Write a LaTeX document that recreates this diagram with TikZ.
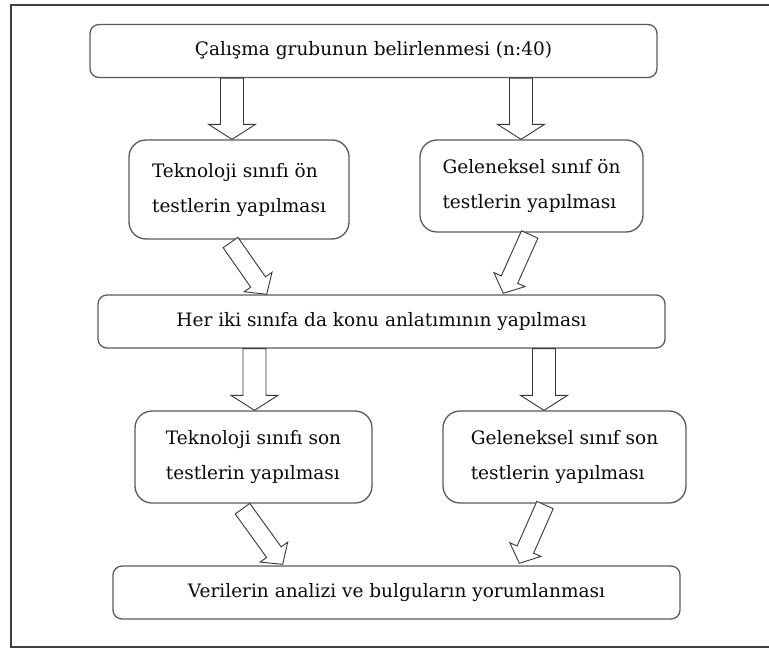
\documentclass[tikz,border=0pt]{standalone}
\usepackage{fontspec}
\setmainfont{DejaVu Serif}
\usetikzlibrary{calc}
\definecolor{boxgray}{RGB}{90,90,90}
\definecolor{framegray}{RGB}{64,64,64}
\definecolor{arrowgray}{RGB}{55,55,55}
\definecolor{textblack}{RGB}{10,10,10}
\tikzset{
  widebox/.style={draw=boxgray, line width=1.3bp, rounded corners=9bp, inner sep=0pt,
    minimum width=567bp, minimum height=53bp, text=textblack,
    font=\fontsize{18.5bp}{35bp}\selectfont},
  stepbox/.style={widebox, rounded corners=17bp, minimum height=92bp, align=left},
  hollow/.style={draw=arrowgray, line width=0.9bp, fill=white}
}
% #1 half shaft, #2 half head, #3 tail, #4 tip
\newcommand{\blockarrow}[4]{%
  \coordinate (hb) at ($(#4)!15bp!(#3)$);
  \draw[hollow] ($(#3)!#1!90:(#4)$) -- ($(hb)!#1!-90:(#3)$) -- ($(hb)!#2!-90:(#3)$)
    -- (#4) -- ($(hb)!#2!90:(#3)$) -- ($(hb)!#1!90:(#3)$) -- ($(#3)!#1!-90:(#4)$) -- cycle;
}
\begin{document}
\begin{tikzpicture}[x=1bp, y=-1bp]
    \useasboundingbox (0,0) rectangle (769,648);
    \draw[framegray, line width=2bp] (780,5) -- (11,5) -- (11,647) -- (780,647);

    \node[widebox] (grup) at (373.5,51) {Çalışma grubunun belirlenmesi (n:40)};
    \node[stepbox, minimum width=220bp, minimum height=99bp] (tekon) at (239,189.5)
        {Teknoloji sınıfı ön\\testlerin yapılması};
    \node[stepbox, minimum width=223bp] (gelon) at (531.5,186)
        {Geleneksel sınıf ön\\testlerin yapılması};
    \node[widebox] (konu) at (381.5,321.5) {Her iki sınıfa da konu anlatımının yapılması};
    \node[stepbox, minimum width=237bp] (tekson) at (253.5,457)
        {Teknoloji sınıfı son\\testlerin yapılması};
    \node[stepbox, minimum width=243bp] (gelson) at (564.5,457)
        {Geleneksel sınıf son\\testlerin yapılması};
    \node[widebox] (analiz) at (396.5,592.5) {Verilerin analizi ve bulguların yorumlanması};

    \coordinate (a1) at (grup.south -| 232,0);
    \coordinate (b1) at (tekon.north -| 232,0);
    \coordinate (a2) at (grup.south -| 521,0);
    \coordinate (b2) at (gelon.north -| 521,0);
    \coordinate (a3) at (230.5,242.5);
    \coordinate (b3) at (266.7,294.3);
    \coordinate (a4) at (529.7,234.5);
    \coordinate (b4) at (503.3,293.3);
    \coordinate (a5) at (konu.south -| 254.5,0);
    \coordinate (b5) at (tekson.north -| 254.5,0);
    \coordinate (a6) at (konu.south -| 544,0);
    \coordinate (b6) at (gelson.north -| 544,0);
    \coordinate (a7) at (242.5,508.7);
    \coordinate (b7) at (282.7,564.3);
    \coordinate (a8) at (545,505);
    \coordinate (b8) at (519.3,563.3);

    \blockarrow{11.5bp}{23.5bp}{a1}{b1}
    \blockarrow{11.5bp}{23.5bp}{a2}{b2}
    \blockarrow{9bp}{17bp}{a3}{b3}
    \blockarrow{9bp}{17bp}{a4}{b4}
    \blockarrow{11.5bp}{23.5bp}{a5}{b5}
    \blockarrow{11.5bp}{23.5bp}{a6}{b6}
    \blockarrow{9bp}{17bp}{a7}{b7}
    \blockarrow{9bp}{17bp}{a8}{b8}
\end{tikzpicture}
\end{document}
